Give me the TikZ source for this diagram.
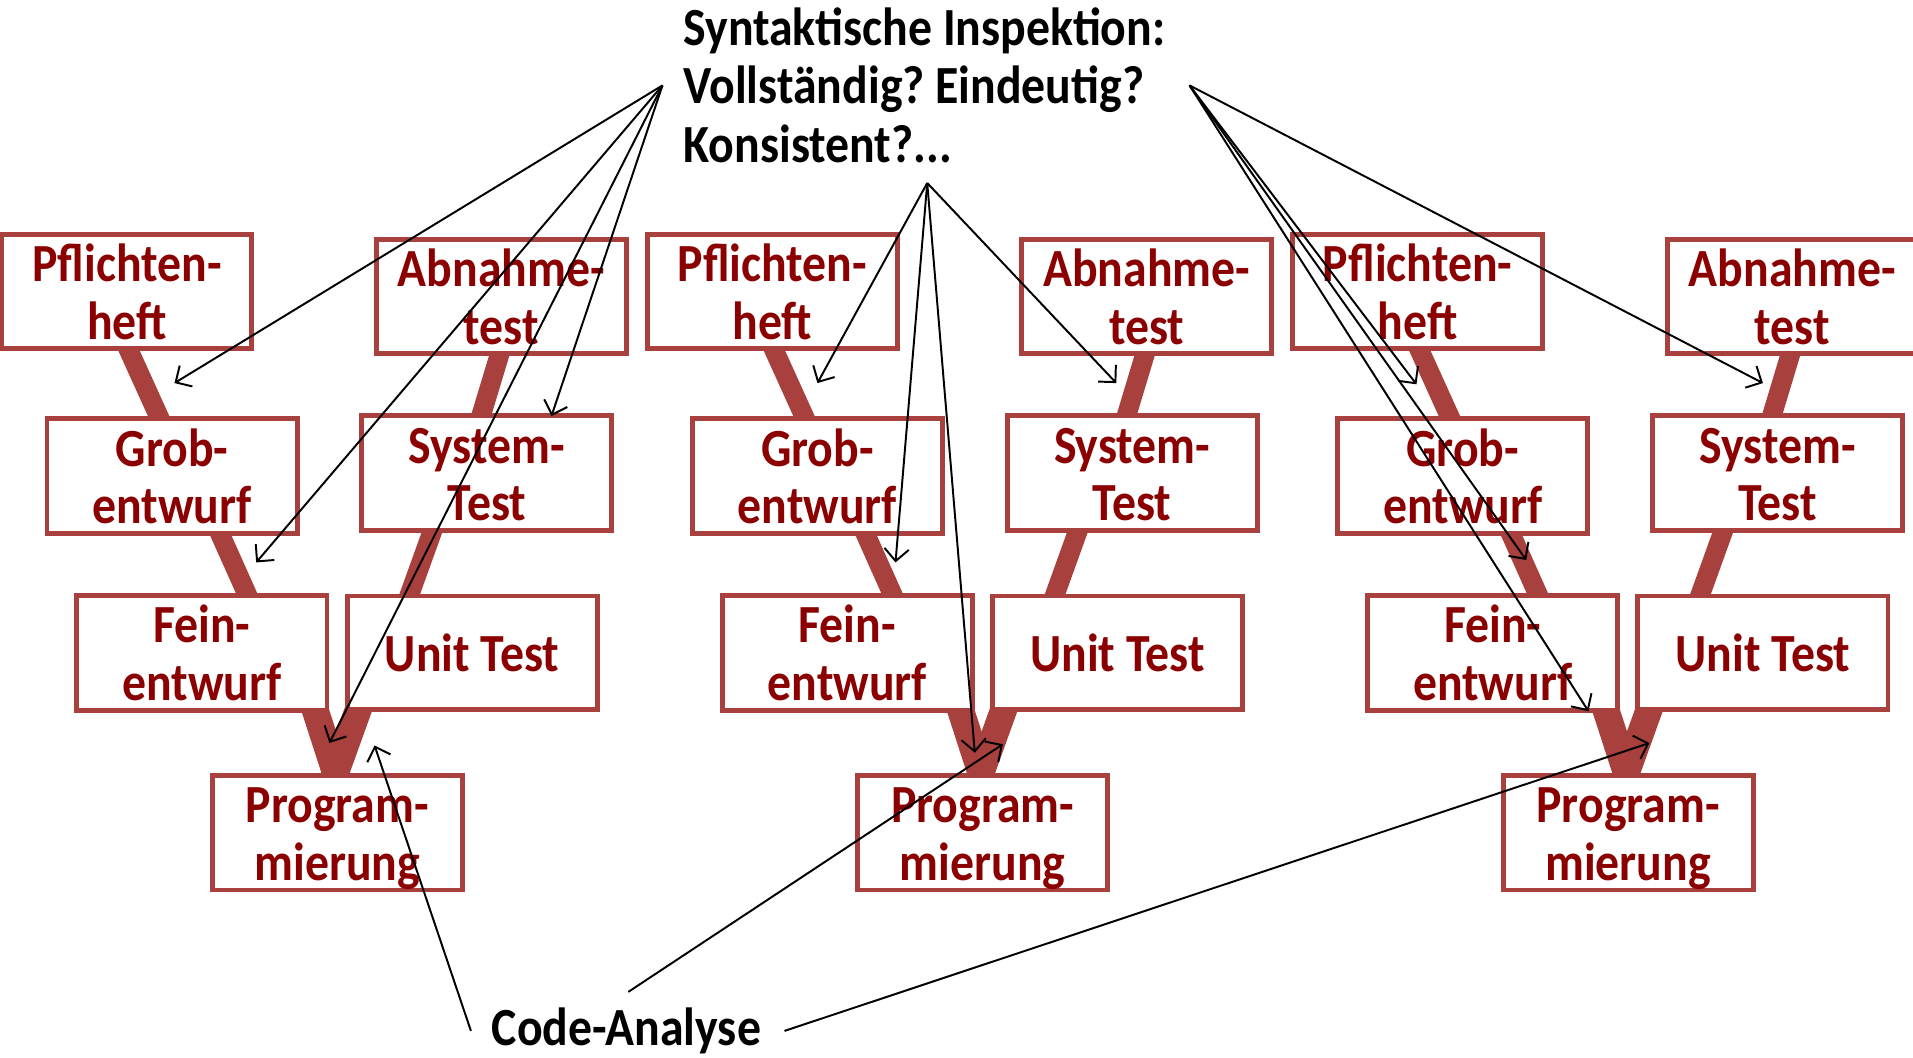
\documentclass[tikz,border=0pt]{standalone}
\usepackage{fontspec}
\setmainfont{Carlito}[FakeStretch=0.89]
\usetikzlibrary{arrows.meta,backgrounds}
\definecolor{barred}{RGB}{168,64,61}
\definecolor{boxtext}{RGB}{139,0,0}
\frenchspacing
% uniform line struts so every box line sits on the same baseline grid
\newcommand\bstrut{\rule[-8pt]{0pt}{47pt}}
\newcommand\tstrut{\rule[-9pt]{0pt}{48pt}}

\begin{document}
\begin{tikzpicture}[x=1pt,y=-1pt,
  phase/.style={draw=barred, line width=4pt, fill=white,
    minimum width=205pt, minimum height=93pt, inner sep=0pt,
    align=center, text=boxtext, font=\fontsize{44}{47}\selectfont\bfseries},
  bar/.style={draw=barred, line width=16pt, shorten <=-6pt, shorten >=-6pt},
  vbar/.style={draw=barred, line width=22pt, shorten <=-6pt, shorten >=-8pt},
  note/.style={inner sep=0pt, align=left, font=\fontsize{44}{48}\selectfont\bfseries},
  ptr/.style={-{Straight Barb[length=10pt,width=20pt]}, line width=1.6pt}
]
\useasboundingbox (0,0) rectangle (1568,867);

% three V-models side by side
\foreach \c in {0,1,2} {
  \begin{scope}[xshift=529*\c pt]
    \node[phase] (pf\c)   at (104,239)   {\bstrut Pflichten-\\\bstrut heft};
    \node[phase] (grob\c) at (141,390)   {\bstrut Grob-\\\bstrut entwurf};
    \node[phase] (fein\c) at (165.5,535) {\bstrut Fein-\\\bstrut entwurf};
    \node[phase] (prog\c) at (276.5,682.5) {\bstrut Program-\\\bstrut mierung};
    \node[phase] (abn\c)  at (411,243)   {\bstrut Abnahme-\\\bstrut test};
    \node[phase] (sys\c)  at (399,387.5) {\bstrut System-\\\bstrut Test};
    \node[phase] (unit\c) at (387,535)   {\bstrut Unit Test};
  \end{scope}
}

% thick links between the phases, behind the boxes
\begin{scope}[on background layer]
  \foreach \c in {0,1,2} {
    \draw[bar] ([xshift=2pt]pf\c.south) -- ([xshift=-11pt]grob\c.north);
    \draw[bar] ([xshift=40pt]grob\c.south) -- ([xshift=36.5pt]fein\c.north);
    \draw[bar] ([xshift=-2pt]abn\c.south) -- ([xshift=-4pt]sys\c.north);
    \draw[bar] ([xshift=-45pt]sys\c.south) -- ([xshift=-51pt]unit\c.north);
    \draw[vbar] ([xshift=93.5pt]fein\c.south) -- ([xshift=-1.5pt]prog\c.north);
    \draw[vbar] ([xshift=-94pt]unit\c.south) -- ([xshift=-1.5pt]prog\c.north);
  }
\end{scope}

% annotations
\node[note, anchor=north west] (insp) at (560,-2)
  {\tstrut Syntaktische Inspektion:\\\tstrut Vollständig? Eindeutig?\\\tstrut Konsistent?...};
\node[note, anchor=base west] (code) at (403,857) {Code-Analyse};

% fan origins and arrow targets
\coordinate (fanL) at (543,70);
\coordinate (fanM) at (760,150);
\coordinate (fanR) at (975,70);
\coordinate (cA) at (386,845);
\coordinate (cB) at (515,813);
\coordinate (cC) at (643,845);

\coordinate (tL1) at (143,314);
\coordinate (tL2) at (210,461);
\coordinate (tL3) at (270,609);
\coordinate (tL4) at (452,341);
\coordinate (tM1) at (670,314);
\coordinate (tM2) at (734,461);
\coordinate (tM3) at (799,617);
\coordinate (tM4) at (915,314);
\coordinate (tR1) at (1161,315);
\coordinate (tR2) at (1251,459);
\coordinate (tR3) at (1302,583);
\coordinate (tR4) at (1445,314);
\coordinate (tC1) at (307,611);
\coordinate (tC2) at (822,610);
\coordinate (tC3) at (1352,609);

\foreach \t in {tL1,tL2,tL3,tL4} \draw[ptr] (fanL) -- (\t);
\foreach \t in {tM1,tM2,tM3,tM4} \draw[ptr] (fanM) -- (\t);
\foreach \t in {tR1,tR2,tR3,tR4} \draw[ptr] (fanR) -- (\t);
\draw[ptr] (cA) -- (tC1);
\draw[ptr] (cB) -- (tC2);
\draw[ptr] (cC) -- (tC3);
\end{tikzpicture}
\end{document}
